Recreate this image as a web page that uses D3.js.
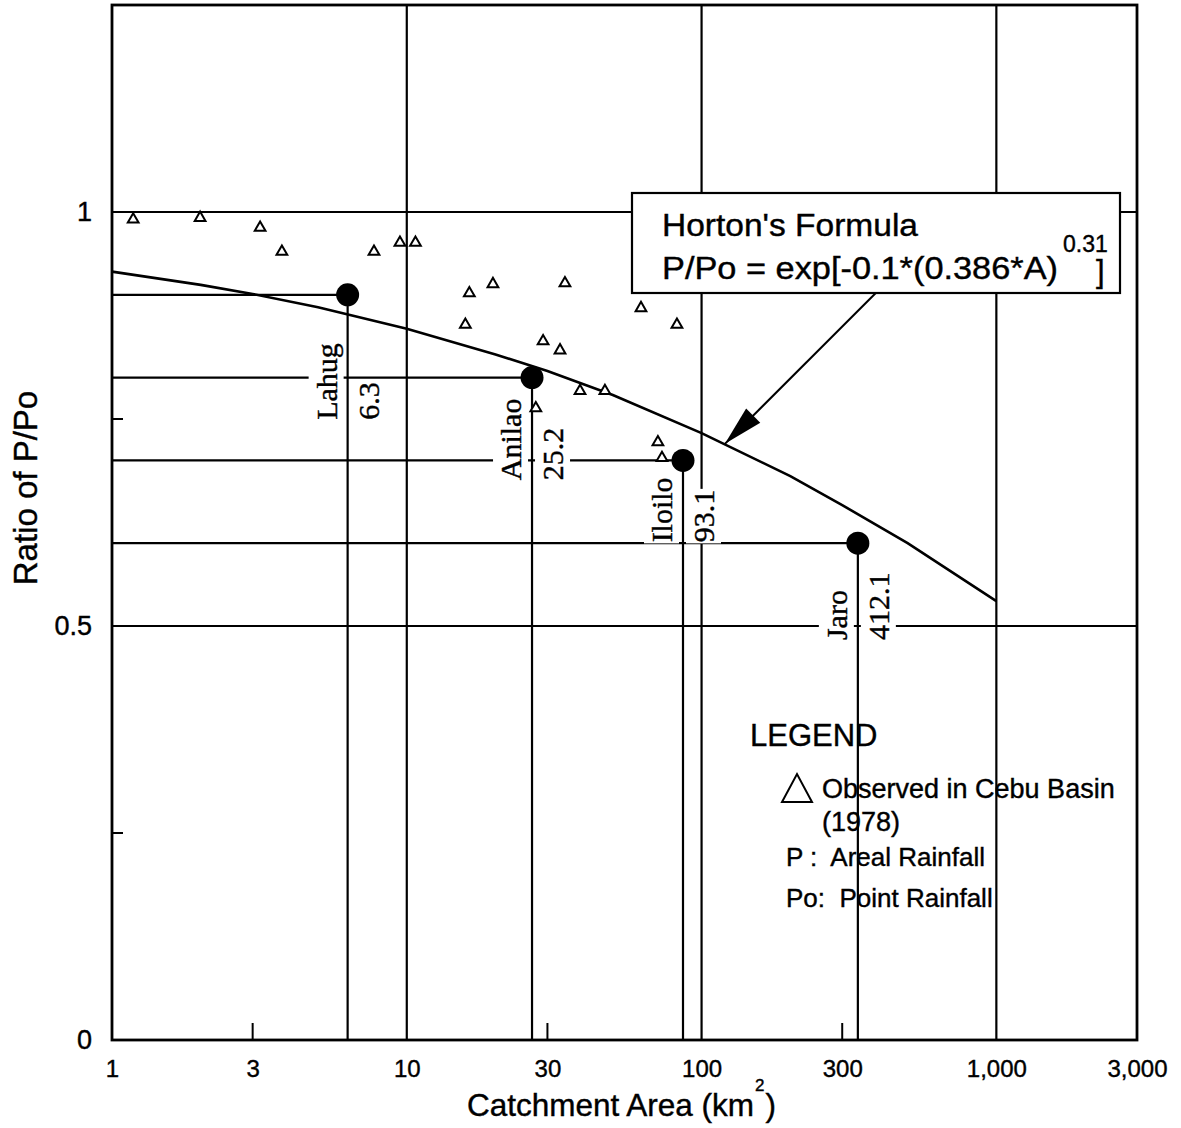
<!DOCTYPE html>
<html>
<head>
<meta charset="utf-8">
<script src="https://cdn.jsdelivr.net/npm/d3@7"></script>
<style>
  body { margin: 0; background: #fff; }
  svg { display: block; }
  text { font-family: "Liberation Sans", Arial, Helvetica, sans-serif; fill: #000; white-space: pre; stroke: #000; stroke-width: 0.4; }
  .serif { font-family: "Liberation Serif", "Times New Roman", serif; }
</style>
</head>
<body>
<div id="chart"></div>
<script>
// axis ticks
var xTicks = [1, 3, 10, 30, 100, 300, 1000, 3000];
var xTickLabels = ["1", "3", "10", "30", "100", "300", "1,000", "3,000"];
var yTicks = [0, 0.5, 1];
var yTickLabels = ["0", "0.5", "1"];
var xGrid = [10, 100, 1000];
var yGrid = [0.5, 1];
var xMinor = [3, 30, 300];
var yMinor = [0.25, 0.75];

// observed in Cebu Basin (1978)
var obsArea  = [1.18, 1.99, 3.18, 3.77, 7.74, 9.48, 10.7, 16.3, 19.6, 34.4, 15.8, 29.0, 33.1, 62.3, 82.5, 38.7, 47.0, 27.4, 71.1, 73.4];
var obsRatio = [0.991, 0.993, 0.981, 0.952, 0.952, 0.963, 0.963, 0.902, 0.913, 0.914, 0.864, 0.844, 0.833, 0.884, 0.864, 0.784, 0.784, 0.763, 0.722, 0.703];

// Horton's curve
var curveArea  = [1, 2, 3, 5, 10, 20, 30, 50, 100, 200, 300, 500, 1000];
var curveRatio = [0.928, 0.912, 0.901, 0.885, 0.859, 0.828, 0.808, 0.779, 0.733, 0.681, 0.646, 0.600, 0.530];

// stations (dot placed where the original draws it)
var stationName  = ["Lahug", "Anilao", "Iloilo", "Jaro"];
var stationLabel = ["6.3", "25.2", "93.1", "412.1"];
var stationArea  = [6.3, 26.6, 86.5, 339];
var stationRatio = [0.9, 0.8, 0.7, 0.6];
var stationFoot  = [0.749, 0.676, 0.601, 0.483];   // where the rotated labels start

var width = 1181, height = 1128;
var plotL = 112, plotR = 1137, plotT = 5, plotB = 1040;

var svg = d3.select("#chart").append("svg")
    .attr("width", width)
    .attr("height", height);

svg.append("rect").attr("width", width).attr("height", height).attr("fill", "#fff");

var x = d3.scaleLog().domain([1, 3000]).range([plotL, plotR]);
var y = d3.scaleLinear().domain([0, 1.25]).range([plotB, plotT]);

var grid = svg.append("g").attr("stroke", "#000").attr("fill", "none");

// full grid lines
grid.selectAll(".vg").data(xGrid).enter().append("line")
    .attr("x1", d => x(d)).attr("x2", d => x(d))
    .attr("y1", plotT).attr("y2", plotB)
    .attr("stroke-width", 2.2);
grid.selectAll(".hg").data(yGrid).enter().append("line")
    .attr("x1", plotL).attr("x2", plotR)
    .attr("y1", d => y(d)).attr("y2", d => y(d))
    .attr("stroke-width", 2.2);

// minor ticks
grid.selectAll(".xm").data(xMinor).enter().append("line")
    .attr("x1", d => x(d)).attr("x2", d => x(d))
    .attr("y1", plotB).attr("y2", plotB - 17)
    .attr("stroke-width", 2);
grid.selectAll(".ym").data(yMinor).enter().append("line")
    .attr("x1", plotL).attr("x2", plotL + 11)
    .attr("y1", d => y(d)).attr("y2", d => y(d))
    .attr("stroke-width", 2);

// station guide lines (horizontal)
var idx = d3.range(stationName.length);
grid.selectAll(".sh").data(idx).enter().append("line")
    .attr("x1", plotL).attr("x2", i => x(stationArea[i]))
    .attr("y1", i => y(stationRatio[i])).attr("y2", i => y(stationRatio[i]))
    .attr("stroke-width", 2.2);

// frame
svg.append("rect")
    .attr("x", plotL).attr("y", plotT)
    .attr("width", plotR - plotL).attr("height", plotB - plotT)
    .attr("fill", "none").attr("stroke", "#000").attr("stroke-width", 2.8);

// station labels, with white background that breaks the lines under them
var labels = svg.append("g");
idx.forEach(function(i) {
    var sx = x(stationArea[i]);
    var foot = y(stationFoot[i]);
    [[stationName[i], sx - 11], [stationLabel[i], sx + 31]].forEach(function(p) {
        var g = labels.append("g");
        var t = g.append("text")
            .attr("class", "serif")
            .attr("transform", `translate(${p[1]},${foot}) rotate(-90)`)
            .attr("font-size", 30)
            .text(p[0]);
        var b = t.node().getBBox();
        // bbox is in local (rotated) coords: local x -> -y, local y -> x
        g.insert("rect", "text")
            .attr("x", p[1] + b.y - 1)
            .attr("y", foot - b.x - b.width - 1)
            .attr("width", b.height + 2)
            .attr("height", b.width + 2)
            .attr("fill", "#fff");
    });
});

// station vertical lines
svg.append("g").selectAll("line").data(idx).enter().append("line")
    .attr("x1", i => x(stationArea[i])).attr("x2", i => x(stationArea[i]))
    .attr("y1", i => y(stationRatio[i])).attr("y2", plotB)
    .attr("stroke", "#000").attr("stroke-width", 2.2);

// Horton curve
var line = d3.line()
    .x(d => x(d[0]))
    .y(d => y(d[1]));
svg.append("path")
    .datum(curveArea.map((a, i) => [a, curveRatio[i]]))
    .attr("d", line)
    .attr("fill", "none")
    .attr("stroke", "#000")
    .attr("stroke-width", 2.6);

// observed triangles
svg.append("g").selectAll("path").data(obsArea).enter().append("path")
    .attr("d", d3.symbol().type(d3.symbolTriangle).size(50))
    .attr("transform", (d, i) => `translate(${x(d)},${y(obsRatio[i])})`)
    .attr("fill", "#fff")
    .attr("stroke", "#000")
    .attr("stroke-width", 2);

// station dots
svg.append("g").selectAll("circle").data(idx).enter().append("circle")
    .attr("cx", i => x(stationArea[i]))
    .attr("cy", i => y(stationRatio[i]))
    .attr("r", 11.5)
    .attr("fill", "#000");

// x axis labels
var xAxis = d3.axisBottom(x)
    .tickValues(xTicks)
    .tickFormat((d, i) => xTickLabels[i])
    .tickSize(0)
    .tickPadding(20);
var xa = svg.append("g").attr("transform", `translate(0,${plotB})`).call(xAxis);
xa.select(".domain").remove();
xa.selectAll("text").attr("font-size", 24).attr("font-family", null).attr("fill", "#000");

// y axis labels
var yAxis = d3.axisLeft(y)
    .tickValues(yTicks)
    .tickFormat((d, i) => yTickLabels[i])
    .tickSize(0)
    .tickPadding(20);
var ya = svg.append("g").attr("transform", `translate(${plotL},0)`).call(yAxis);
ya.select(".domain").remove();
ya.selectAll("text").attr("font-size", 27).attr("font-family", null).attr("fill", "#000");

// axis titles
var xt = svg.append("text")
    .attr("x", 467).attr("y", 1116)
    .attr("font-size", 31.5);
xt.append("tspan").text("Catchment Area (km");
xt.append("tspan").attr("font-size", 17).attr("dy", -25).attr("dx", 1).text("2");
xt.append("tspan").attr("dy", 25).attr("dx", 1).text(")");

svg.append("text")
    .attr("transform", "translate(37,488) rotate(-90)")
    .attr("text-anchor", "middle")
    .attr("font-size", 33)
    .text("Ratio of P/Po");

// formula box and arrow
var arrowFrom = [x(390), 293];
var arrowTip = [x(120), y(0.72)];
svg.append("line")
    .attr("x1", arrowFrom[0]).attr("y1", arrowFrom[1])
    .attr("x2", arrowTip[0]).attr("y2", arrowTip[1])
    .attr("stroke", "#000").attr("stroke-width", 2);
var ang = Math.atan2(arrowFrom[1] - arrowTip[1], arrowFrom[0] - arrowTip[0]);
var hl = 40, hw = 10;
var bx = arrowTip[0] + hl * Math.cos(ang), by = arrowTip[1] + hl * Math.sin(ang);
svg.append("path")
    .attr("d", d3.line()([
        arrowTip,
        [bx + hw * Math.sin(ang), by - hw * Math.cos(ang)],
        [bx - hw * Math.sin(ang), by + hw * Math.cos(ang)]
    ]) + "Z")
    .attr("fill", "#000");

svg.append("rect")
    .attr("x", 632).attr("y", 193)
    .attr("width", 488).attr("height", 100)
    .attr("fill", "#fff").attr("stroke", "#000").attr("stroke-width", 2.2);
svg.append("text").attr("x", 662).attr("y", 236).attr("font-size", 31)
    .attr("textLength", 256).attr("lengthAdjust", "spacingAndGlyphs").text("Horton's Formula");
svg.append("text").attr("x", 662).attr("y", 279).attr("font-size", 31)
    .attr("textLength", 396).attr("lengthAdjust", "spacingAndGlyphs").text("P/Po = exp[-0.1*(0.386*A)");
svg.append("text").attr("x", 1063).attr("y", 252).attr("font-size", 23).text("0.31");
svg.append("text").attr("x", 1096).attr("y", 282).attr("font-size", 31).text("]");

// legend
var leg = svg.append("g");
leg.append("text").attr("x", 750).attr("y", 746).attr("font-size", 31).text("LEGEND");
leg.append("path")
    .attr("d", d3.line()([[782, 802], [812, 802], [797, 774]]) + "Z")
    .attr("fill", "none").attr("stroke", "#000").attr("stroke-width", 2);
leg.append("text").attr("x", 822).attr("y", 798).attr("font-size", 27).text("Observed in Cebu Basin");
leg.append("text").attr("x", 822).attr("y", 831).attr("font-size", 27).text("(1978)");
leg.append("text").attr("x", 786).attr("y", 866).attr("font-size", 26).text("P :  Areal Rainfall");
leg.append("text").attr("x", 786).attr("y", 907).attr("font-size", 26).text("Po:  Point Rainfall");
</script>
</body>
</html>
